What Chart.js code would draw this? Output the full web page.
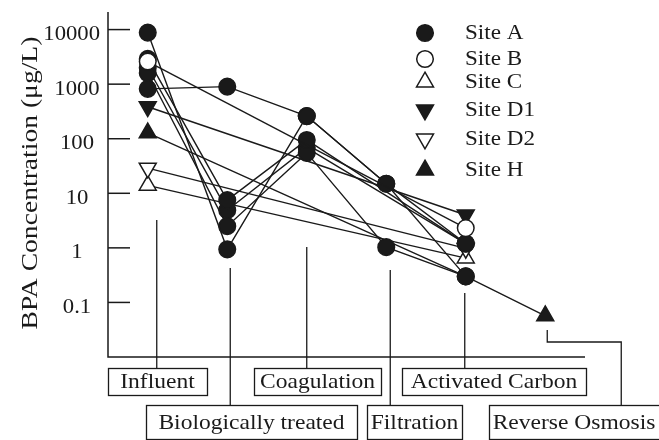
<!DOCTYPE html>
<html>
<head>
<meta charset="utf-8">
<script src="https://cdn.jsdelivr.net/npm/chart.js@4/dist/chart.umd.min.js"></script>
<style>
  html, body { margin: 0; padding: 0; background: #ffffff; }
  #wrap { width: 659px; height: 440px; position: relative; }
</style>
</head>
<body>
<div id="wrap"><canvas id="c" width="659" height="440"></canvas></div>
<script>
// Treatment stages (x categories)
const stages = ['Influent', 'Biologically treated', 'Coagulation', 'Filtration', 'Activated Carbon', 'Reverse Osmosis'];

// Log-axis ticks
const yTicks = [0.1, 1, 10, 100, 1000, 10000];
const yTickLabels = ['0.1', '1', '10', '100', '1000', '10000'];

// BPA concentration (µg/L) at each stage; null = not sampled at that stage
const siteA_1 = [8800, 0.94, 260, 15, 1.2, null];
const siteA_2 = [820, 900, 260, 15, 0.30, null];
const siteA_3 = [2900, 7.5, 95, null, 1.2, null];
const siteA_4 = [1600, 2.5, 55, 1.03, 0.30, null];
const siteA_5 = [2000, 4.9, 68, null, 1.2, null];
const siteB  = [2600, null, null, null, 2.3, null];
const siteC  = [14, null, null, null, 0.65, null];
const siteD1 = [385, null, null, null, 4.0, null];
const siteD2 = [29, null, null, null, 0.98, null];
const siteH  = [128, null, null, null, 0.30, 0.057];

const legendNames = ['Site A', 'Site B', 'Site C', 'Site D1', 'Site D2', 'Site H'];

const FONT = '"Liberation Serif", "Times New Roman", serif';

const markers = {
  A:  { pointStyle: 'circle',   rotation: 0,   radius: 8.3, fill: '#1a1a1a' },
  B:  { pointStyle: 'circle',   rotation: 0,   radius: 8.3, fill: '#ffffff' },
  C:  { pointStyle: 'triangle', rotation: 0,   radius: 9.8, fill: '#ffffff' },
  D1: { pointStyle: 'triangle', rotation: 180, radius: 9.8, fill: '#1a1a1a' },
  D2: { pointStyle: 'triangle', rotation: 180, radius: 9.8, fill: '#ffffff' },
  H:  { pointStyle: 'triangle', rotation: 0,   radius: 9.8, fill: '#1a1a1a' }
};

function series(label, values, m, order, radii) {
  return {
    label: label,
    data: values,
    order: order,
    borderColor: '#1a1a1a',
    borderWidth: 1.4,
    tension: 0,
    spanGaps: true,
    pointStyle: m.pointStyle,
    rotation: m.rotation,
    pointRadius: radii || m.radius,
    pointHoverRadius: radii || m.radius,
    pointBackgroundColor: m.fill,
    pointBorderColor: '#1a1a1a',
    pointBorderWidth: 1.5
  };
}

const datasets = [
  series('Site B', siteB, markers.B, 0),
  series('Site A', siteA_1, markers.A, 1),
  series('Site A', siteA_2, markers.A, 1),
  series('Site A', siteA_3, markers.A, 1),
  series('Site A', siteA_4, markers.A, 1),
  series('Site A', siteA_5, markers.A, 1),
  series('Site D1', siteD1, markers.D1, 2),
  series('Site D2', siteD2, markers.D2, 2),
  series('Site C', siteC, markers.C, 2),
  series('Site H', siteH, markers.H, 3, [9.8, 9.8, 9.8, 9.8, 0, 9.8])
];

// Boxed stage labels: box geometry and the leader line joining each box to its stage
const stageBoxes = [
  { box: [108, 368, 207, 395], leader: [[9, 220], [9, 368]] },
  { box: [146, 405, 357, 439], leader: [[3, 268], [3, 405]] },
  { box: [254, 368, 381, 395], leader: [[0, 247], [0, 368]] },
  { box: [367, 405, 462, 439], leader: [[4, 270], [4, 405]] },
  { box: [402, 368, 586, 395], leader: [[-1, 293], [-1, 368]] },
  { box: [489, 405, 665, 439], leader: [[2, 330], [2, 342], [76, 342], [76, 405]] }
];

const legendRows = [
  { key: 'A', y: 33 }, { key: 'B', y: 59 }, { key: 'C', y: 82 },
  { key: 'D1', y: 110 }, { key: 'D2', y: 139 }, { key: 'H', y: 170 }
];

function stretchText(ctx, txt, x, y, align, sx, size) {
  ctx.save();
  ctx.font = size + 'px ' + FONT;
  ctx.translate(x, y);
  ctx.scale(sx, 1);
  ctx.textAlign = align;
  ctx.textBaseline = 'middle';
  ctx.fillText(txt, 0, 0);
  ctx.restore();
}

function marker(ctx, m, x, y) {
  ctx.save();
  ctx.fillStyle = m.fill;
  ctx.strokeStyle = '#1a1a1a';
  ctx.lineWidth = 1.5;
  Chart.helpers.drawPoint(ctx, { pointStyle: m.pointStyle, rotation: m.rotation, radius: m.radius, borderWidth: 1.5 }, x, y);
  ctx.restore();
}

const framePlugin = {
  id: 'frame',
  afterDraw(chart) {
    const ctx = chart.ctx;
    const area = chart.chartArea;
    const xs = chart.scales.x;
    const ys = chart.scales.y;
    ctx.save();
    ctx.strokeStyle = '#1a1a1a';
    ctx.fillStyle = '#1a1a1a';
    ctx.lineWidth = 1.5;

    // axes
    ctx.beginPath();
    ctx.moveTo(area.left, area.top);
    ctx.lineTo(area.left, area.bottom);
    ctx.lineTo(area.right, area.bottom);
    ctx.stroke();

    // inward ticks and their labels (centred, but kept clear of the axis)
    ctx.font = '21px ' + FONT;
    yTicks.forEach((v, i) => {
      const py = ys.getPixelForValue(v);
      ctx.beginPath();
      ctx.moveTo(area.left, py);
      ctx.lineTo(area.left + 22, py);
      ctx.stroke();
      const w = ctx.measureText(yTickLabels[i]).width * 1.08;
      const cx = Math.min(77, 100 - w / 2);
      stretchText(ctx, yTickLabels[i], cx, py + 5, 'center', 1.08, 21);
      ctx.font = '21px ' + FONT;
    });

    // y-axis title
    ctx.save();
    ctx.translate(31, 183);
    ctx.rotate(-Math.PI / 2);
    ctx.scale(1.2, 1);
    ctx.font = '23px ' + FONT;
    ctx.textAlign = 'center';
    ctx.textBaseline = 'middle';
    ctx.fillText('BPA Concentration (\u03BCg/L)', 0, 0);
    ctx.restore();

    // legend
    legendRows.forEach((r, i) => {
      marker(ctx, markers[r.key], 425, r.y);
      stretchText(ctx, legendNames[i], 465, r.y, 'left', 1.1, 21);
    });

    // stage boxes and leader lines
    ctx.lineWidth = 1.3;
    stageBoxes.forEach((s, i) => {
      const px = xs.getPixelForValue(i);
      ctx.beginPath();
      s.leader.forEach((p, k) => {
        if (k === 0) ctx.moveTo(px + p[0], p[1]); else ctx.lineTo(px + p[0], p[1]);
      });
      ctx.stroke();
      const b = s.box;
      ctx.strokeRect(b[0] + 0.5, b[1] + 0.5, b[2] - b[0], b[3] - b[1]);
      stretchText(ctx, stages[i], i === 5 ? 574 : (b[0] + b[2]) / 2, (b[1] + b[3]) / 2 + 1, 'center', 1.12, 21);
    });
    ctx.restore();
  }
};

new Chart(document.getElementById('c'), {
  type: 'line',
  data: { labels: stages, datasets: datasets },
  options: {
    responsive: false,
    devicePixelRatio: 1,
    animation: false,
    layout: { padding: { left: 108, top: 12, right: 74, bottom: 83 } },
    plugins: { legend: { display: false }, tooltip: { enabled: false } },
    scales: {
      x: { type: 'category', offset: true, display: false },
      y: { type: 'logarithmic', min: 0.01, max: 21000, display: false }
    }
  },
  plugins: [framePlugin]
});
</script>
</body>
</html>
